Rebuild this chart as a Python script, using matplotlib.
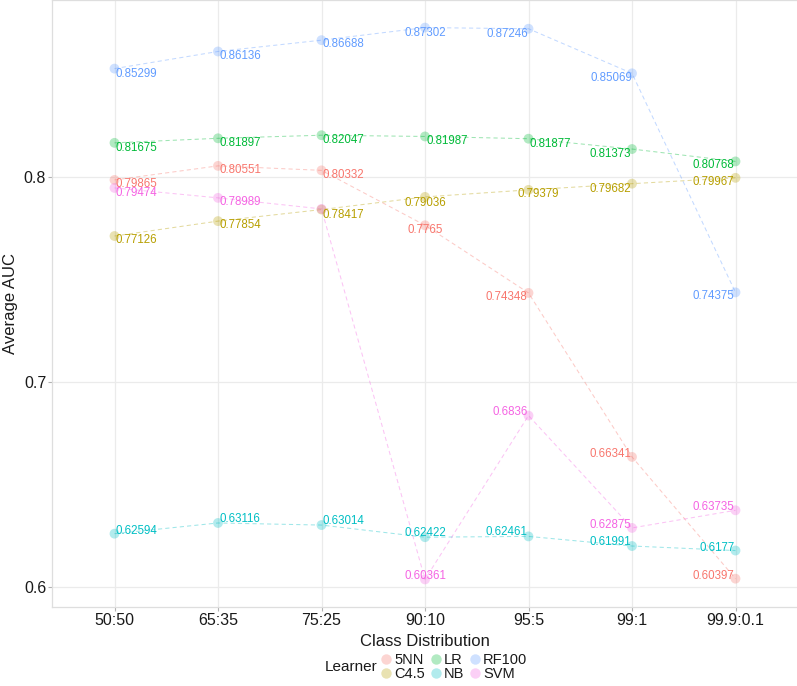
import matplotlib
matplotlib.use("Agg")
import matplotlib.pyplot as plt
from matplotlib.lines import Line2D
import numpy as np

plt.rcParams['font.family'] = ['Liberation Sans', 'DejaVu Sans']

# ---------------- data ----------------
categories = ["50:50", "65:35", "75:25", "90:10", "95:5", "99:1", "99.9:0.1"]
learners = ["5NN", "C4.5", "LR", "NB", "RF100", "SVM"]

auc_5nn = [0.79865, 0.80551, 0.80332, 0.7765, 0.74348, 0.66341, 0.60397]
auc_c45 = [0.77126, 0.77854, 0.78417, 0.79036, 0.79379, 0.79682, 0.79967]
auc_lr = [0.81675, 0.81897, 0.82047, 0.81987, 0.81877, 0.81373, 0.80768]
auc_nb = [0.62594, 0.63116, 0.63014, 0.62422, 0.62461, 0.61991, 0.6177]
auc_rf100 = [0.85299, 0.86136, 0.86688, 0.87302, 0.87246, 0.85069, 0.74375]
auc_svm = [0.79474, 0.78989, 0.7845, 0.60361, 0.6836, 0.62875, 0.63735]

# which points carry a visible value label (one SVM label is hidden under C4.5)
show_label = {
    "5NN": [1, 1, 1, 1, 1, 1, 1],
    "C4.5": [1, 1, 1, 1, 1, 1, 1],
    "LR": [1, 1, 1, 1, 1, 1, 1],
    "NB": [1, 1, 1, 1, 1, 1, 1],
    "RF100": [1, 1, 1, 1, 1, 1, 1],
    "SVM": [1, 1, 0, 1, 1, 1, 1],
}

series = {
    "5NN": auc_5nn, "C4.5": auc_c45, "LR": auc_lr,
    "NB": auc_nb, "RF100": auc_rf100, "SVM": auc_svm,
}

# ---------------- style ----------------
colors = {
    "5NN": "#F8766D", "C4.5": "#B79F00", "LR": "#00BA38",
    "NB": "#00BFC4", "RF100": "#619CFF", "SVM": "#F564E3",
}

# label placement (repel-like): (dx px, dy px (down positive), ha)
R, L, C = "left", "right", "center"
label_place = {
    "RF100": [(1, 5, R), (1, 5, R), (1, 4, R), (0, 5, C), (0, 5, L), (0, 5, L), (-1, 4, L)],
    "LR": [(1, 5, R), (1, 5, R), (1, 5, R), (1, 5, R), (1, 5, R), (-1, 5, L), (-1, 4, L)],
    "5NN": [(1, 4, R), (1, 4, R), (1, 5, R), (0, 5, C), (-1, 4, L), (-1, -3, L), (-1, -3, L)],
    "SVM": [(1, 5, R), (1, 4, R), (1, 5, R), (0, -3, C), (-1, -4, L), (-1, -3, L), (-1, -3, L)],
    "C4.5": [(1, 4, R), (1, 4, R), (1, 5, R), (0, 6, C), (10, 4, C), (-1, 5, L), (-1, 4, L)],
    "NB": [(1, -3, R), (1, -4, R), (1, -4, R), (0, -4, C), (-1, -4, L), (-1, -4, L), (-1, -3, L)],
}

W, H = 797, 686
fig = plt.figure(figsize=(W / 100, H / 100), dpi=100)
ax = fig.add_axes([52.4 / W, (H - 607) / H, (797.6 - 52.4) / W, 607 / H])

x = np.arange(len(categories))

grid_c = "#ebebeb"
for s in ax.spines.values():
    s.set_color("#dedede")
    s.set_linewidth(0.9)
ax.grid(True, color=grid_c, linewidth=0.9)
ax.set_axisbelow(True)

px2pt = 0.72
draw_order = ["C4.5", "LR", "NB", "RF100", "5NN", "SVM"]
for name in draw_order:
    vals = series[name]
    col = colors[name]
    ax.plot(x, vals, linestyle=(0, (4, 3)), color=col, alpha=0.38, linewidth=0.75, zorder=2)
    ax.scatter(x, vals, s=50, color=col, alpha=0.3, edgecolors="none", zorder=3)

for name in ["SVM", "5NN", "RF100", "NB", "LR", "C4.5"]:
    vals = series[name]
    col = colors[name]
    for i, v in enumerate(vals):
        if not show_label[name][i]:
            continue
        dx, dy, ha = label_place[name][i]
        ax.annotate(f"{v:g}", (x[i], v), xytext=(dx * px2pt, -dy * px2pt),
                    textcoords="offset points", ha=ha, va="center",
                    fontsize=8.3, color=col, zorder=4)

allv = np.concatenate([np.asarray(v) for v in series.values()])
lo, hi = allv.min(), allv.max()
pad = 0.05 * (hi - lo)
ax.set_ylim(lo - pad, hi + pad)
ax.set_xlim(-0.6, len(categories) - 0.4)
ax.set_xticks(x)
ax.set_xticklabels(categories)
ax.set_yticks([0.6, 0.7, 0.8])
ax.set_yticklabels(["0.6", "0.7", "0.8"])
ax.tick_params(axis="both", length=3, width=0.8, color="#b3b3b3",
               labelsize=11.5, labelcolor="#1a1a1a", pad=1.5)

ax.set_xlabel("Class Distribution", fontsize=12, color="#1a1a1a", va="center")
ax.xaxis.set_label_coords(0.5, -(641 - 607) / 607)
fig.text(11 / W, 1 - 303 / H, "Average AUC", rotation=90, fontsize=12,
         color="#1a1a1a", ha="center", va="center")

handles = [Line2D([0], [0], marker="o", linestyle="none", markersize=7.5,
                  markerfacecolor=colors[n], markeredgecolor="none", alpha=0.3)
           for n in learners]
leg = fig.legend(handles, learners, ncol=3, loc="center",
                 bbox_to_anchor=(453 / W, 1 - 667 / H), frameon=False,
                 fontsize=10.5, handletextpad=0.05, columnspacing=0.25,
                 labelspacing=-0.05, handlelength=1.0, borderpad=0)
for t in leg.get_texts():
    t.set_color("#1a1a1a")
fig.text(378 / W, 1 - 667 / H, "Learner", fontsize=11, color="#1a1a1a",
         ha="right", va="center")

fig.savefig("out.png", dpi=100)
